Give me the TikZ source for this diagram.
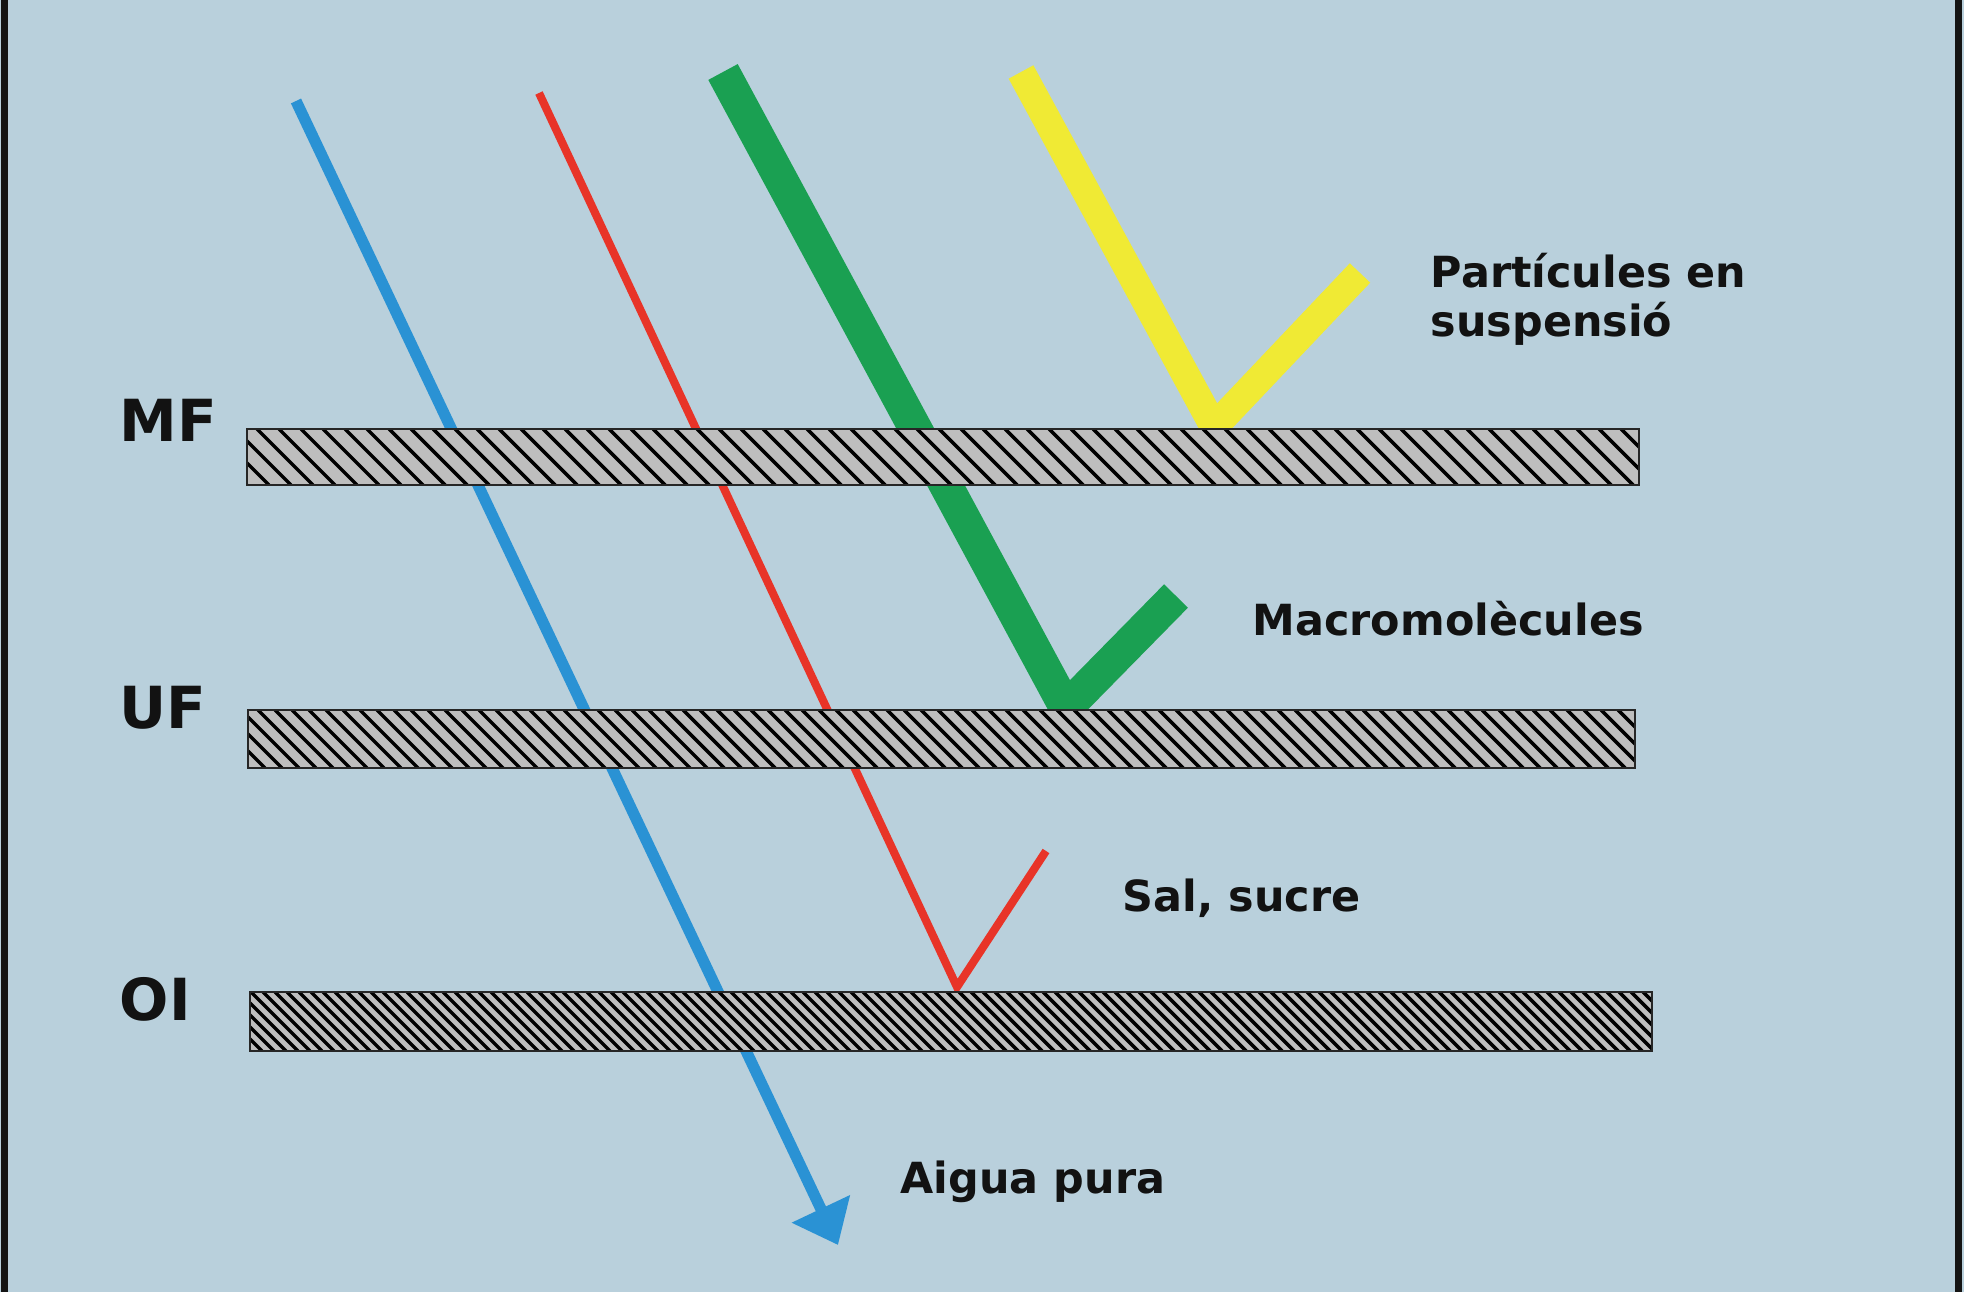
\documentclass[tikz,border=0pt]{standalone}
\usepackage{fontspec}
\setmainfont{DejaVu Sans}
\usepackage{tikz}
\usetikzlibrary{arrows.meta}
\definecolor{bgblue}{RGB}{185,208,220}
\definecolor{waterblue}{RGB}{42,146,212}
\definecolor{saltred}{RGB}{232,52,40}
\definecolor{macrogreen}{RGB}{26,160,82}
\definecolor{partyellow}{RGB}{240,234,52}
\definecolor{membgray}{RGB}{190,190,190}
\tikzset{
  membrane/.style={draw=black!85, line width=0.6pt, fill=membgray},
  hatchline/.style={line width=1pt, black},
  flux/.style={line join=miter, miter limit=10, line cap=butt},
  tag/.style={anchor=base west, inner sep=0pt, font=\fontsize{16.5}{19}\selectfont\bfseries, text=black!93},
  solute/.style={anchor=base west, inner sep=0pt, font=\fontsize{12.2}{14}\selectfont\bfseries, text=black!93, align=left}
}

\begin{document}
\begin{tikzpicture}[x=0.01cm, y=-0.01cm, >=Latex]
  \useasboundingbox (0,0) rectangle (1964,1292);
  \fill[bgblue] (0,0) rectangle (1964,1292);
  \fill[black!92] (1,0) rectangle (8,1292);
  \fill[black!92] (1955,0) rectangle (1962,1292);

  \coordinate (bluetop) at (296,101);
  \coordinate (bluetip) at (838,1245);
  \coordinate (redtop) at (539,93);
  \coordinate (redv) at (957,987);
  \coordinate (redend) at (1046,851);
  \coordinate (greentop) at (723,72);
  \coordinate (greenv) at (1066,708);
  \coordinate (greenend) at (1176,596);
  \coordinate (yellowtop) at (1021,72);
  \coordinate (yellowv) at (1214,427);
  \coordinate (yellowend) at (1360,273);

  \draw[flux, waterblue, line width=3.2pt, -{Triangle[length=4mm, width=6.2mm]}] (bluetop) -- (bluetip);
  \draw[flux, saltred, line width=2.3pt] (redtop) -- (redv) -- (redend);
  \draw[flux, macrogreen, line width=9.5pt] (greentop) -- (greenv) -- (greenend);
  \draw[flux, partyellow, line width=8pt] (yellowtop) -- (yellowv) -- (yellowend);

  \foreach \xa/\ya/\xb/\yb/\gap in {247/429/1639/485/22, 248/710/1635/768/17, 250/992/1652/1051/12}{
    \pgfmathsetmacro{\h}{\yb-\ya}
    \fill[membgray] (\xa,\ya) rectangle (\xb,\yb);
    \begin{scope}
      \clip (\xa,\ya) rectangle (\xb,\yb);
      \foreach \k in {0,...,130}
        \draw[hatchline] (\xa-\h+\k*\gap,\ya) -- ++(\h,\h);
    \end{scope}
    \draw[membrane, fill=none] (\xa,\ya) rectangle (\xb,\yb);
  }

  \node[tag] (mf) at (119,442) {MF};
  \node[tag] (uf) at (119,729) {UF};
  \node[tag] (oi) at (119,1020) {OI};

  \node[solute, anchor=north west] (particles) at (1430,252) {Partícules en\\suspensió};
  \node[solute] (macro) at (1252,636) {Macromolècules};
  \node[solute] (salt) at (1122,911) {Sal, sucre};
  \node[solute] (pure) at (900,1193) {Aigua pura};
\end{tikzpicture}
\end{document}
